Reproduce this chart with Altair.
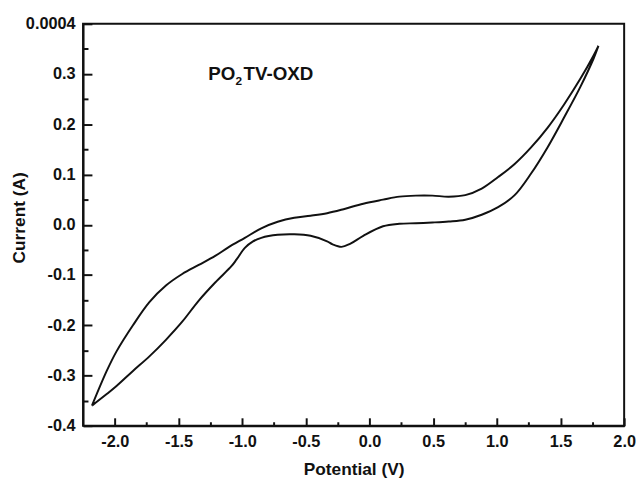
import altair as alt
import pandas as pd

# Forward sweep (upper branch), from the cathodic tip to the anodic tip
fwd_x = [-2.18, -2.064, -1.987, -1.858, -1.729, -1.599, -1.471, -1.341, -1.212, -1.109,
         -0.979, -0.850, -0.721, -0.591, -0.463, -0.333, -0.204, -0.049, 0.106, 0.235,
         0.364, 0.494, 0.622, 0.752, 0.881, 1.010, 1.140, 1.269, 1.398, 1.527,
         1.657, 1.760, 1.798]
fwd_y = [-0.360, -0.291, -0.252, -0.200, -0.154, -0.121, -0.098, -0.080, -0.062, -0.045,
         -0.026, -0.007, 0.006, 0.014, 0.018, 0.023, 0.031, 0.042, 0.050, 0.056,
         0.058, 0.058, 0.056, 0.059, 0.072, 0.095, 0.121, 0.154, 0.193, 0.239,
         0.291, 0.337, 0.356]

# Reverse sweep (lower branch), from the anodic tip back to the cathodic tip
rev_x = [1.798, 1.760, 1.657, 1.527, 1.398, 1.269, 1.140, 1.010, 0.881, 0.752,
         0.622, 0.494, 0.364, 0.235, 0.106, -0.049, -0.153, -0.220, -0.290, -0.333,
         -0.463, -0.591, -0.721, -0.850, -0.915, -0.979, -1.044, -1.083, -1.212, -1.341,
         -1.471, -1.599, -1.729, -1.858, -1.987, -2.064, -2.18]
rev_y = [0.356, 0.331, 0.275, 0.213, 0.154, 0.102, 0.059, 0.035, 0.020, 0.010,
         0.0065, 0.0045, 0.003, 0.002, -0.003, -0.022, -0.038, -0.044, -0.039, -0.033,
         -0.022, -0.019, -0.020, -0.026, -0.033, -0.046, -0.069, -0.082, -0.115, -0.151,
         -0.193, -0.229, -0.262, -0.291, -0.321, -0.337, -0.360]

x_major = [-2.0, -1.5, -1.0, -0.5, 0.0, 0.5, 1.0, 1.5, 2.0]
x_minor = [-1.75, -1.25, -0.75, -0.25, 0.25, 0.75, 1.25, 1.75]
y_major = [-0.4, -0.3, -0.2, -0.1, 0.0, 0.1, 0.2, 0.3, 0.4]
y_minor = [-0.35, -0.25, -0.15, -0.05, 0.05, 0.15, 0.25, 0.35]

# Sample label "PO2TV-OXD" with subscript 2, split in pieces
main_text = ["PO", "TV-OXD"]
main_x = [-1.266, -0.990]
sub_text = ["2"]
sub_x = [-1.052]
label_y = 0.288

xs = fwd_x + rev_x
ys = fwd_y + rev_y
df = pd.DataFrame({"x": xs, "y": ys, "i": list(range(len(xs)))})
lab_main = pd.DataFrame({"x": main_x, "y": [label_y] * len(main_x), "t": main_text})
lab_sub = pd.DataFrame({"x": sub_x, "y": [label_y] * len(sub_x), "t": sub_text})

INK = "#111111"
FONT = "Liberation Sans"
xscale = alt.Scale(domain=[-2.25, 2.0], nice=False, zero=False)
yscale = alt.Scale(domain=[-0.4, 0.4], nice=False, zero=False)

xlab = "replace(format(datum.value, '.1f'), '−', '-')"
ylab = "datum.value > 0.39 ? '0.0004' : replace(format(datum.value, '.1f'), '−', '-')"

axis_x = alt.Axis(orient="bottom", values=x_major, labelExpr=xlab, ticks=False, grid=False,
                  domainColor=INK, domainWidth=2, labelFont=FONT, labelFontSize=16.5,
                  labelFontWeight="bold", labelColor=INK, labelPadding=8, labelFlush=False,
                  labelOverlap=False, title="Potential (V)", titleFont=FONT, titleFontSize=17.5,
                  titleFontWeight="bold", titleColor=INK, titlePadding=11)
axis_y = alt.Axis(orient="left", values=y_major, labelExpr=ylab, ticks=False, grid=False,
                  domainColor=INK, domainWidth=2, labelFont=FONT, labelFontSize=16.5,
                  labelFontWeight="bold", labelColor=INK, labelPadding=8, labelFlush=False,
                  labelOverlap=False, title="Current (A)", titleFont=FONT, titleFontSize=17.5,
                  titleFontWeight="bold", titleColor=INK, titleX=-55, titleY=196)

line = alt.Chart(df).mark_line(color=INK, strokeWidth=2, interpolate="catmull-rom").encode(
    x=alt.X("x:Q", scale=xscale, axis=axis_x),
    y=alt.Y("y:Q", scale=yscale, axis=axis_y),
    order=alt.Order("i:Q"),
)


def tick_layer(xv, yv, xlen, ylen):
    return alt.Chart(df).mark_point(opacity=0).encode(
        x=alt.X("x:Q", scale=xscale,
                axis=alt.Axis(orient="bottom", values=xv, labels=False, domain=False, grid=False,
                              tickSize=xlen, offset=-xlen, tickColor=INK, tickWidth=2, title=None)),
        y=alt.Y("y:Q", scale=yscale,
                axis=alt.Axis(orient="left", values=yv, labels=False, domain=False, grid=False,
                              tickSize=ylen, offset=-ylen, tickColor=INK, tickWidth=2, title=None)),
    )


major = tick_layer(x_major, y_major, 8, 9)
minor = tick_layer(x_minor, y_minor, 4, 5)

text_main = alt.Chart(lab_main).mark_text(align="left", baseline="alphabetic", font=FONT,
                                          fontSize=19, fontWeight="bold", color=INK).encode(
    x=alt.X("x:Q", scale=xscale, axis=None),
    y=alt.Y("y:Q", scale=yscale, axis=None),
    text="t:N",
)
text_sub = alt.Chart(lab_sub).mark_text(align="left", baseline="alphabetic", font=FONT,
                                        fontSize=12, fontWeight="bold", color=INK, dy=5).encode(
    x=alt.X("x:Q", scale=xscale, axis=None),
    y=alt.Y("y:Q", scale=yscale, axis=None),
    text="t:N",
)

chart = alt.layer(line, major, minor, text_main, text_sub).resolve_axis(
    x="independent", y="independent"
).properties(
    width=548, height=407,
    autosize=alt.AutoSizeParams(type="none"),
    padding={"left": 76, "top": 13, "right": 12, "bottom": 56},
    background="white",
).configure_view(stroke=INK, strokeWidth=2)

chart.save("out.html", embed_options={"renderer": "svg", "actions": False})
